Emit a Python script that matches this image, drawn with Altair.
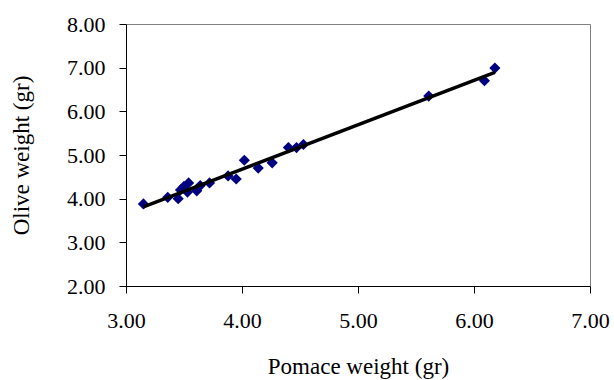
import altair as alt
import pandas as pd

# Pomace weight vs olive weight (grams)
pomace_weight = [3.15, 3.36, 3.45, 3.47, 3.50, 3.54, 3.53, 3.61, 3.64, 3.72,
                 3.88, 3.95, 4.02, 4.14, 4.26, 4.40, 4.47, 4.53, 5.61, 6.09, 6.18]
olive_weight = [3.88, 4.03, 4.00, 4.20, 4.28, 4.36, 4.15, 4.18, 4.30, 4.36,
                4.52, 4.45, 4.88, 4.70, 4.82, 5.17, 5.17, 5.24, 6.35, 6.70, 6.99]

x_ticks = [3, 4, 5, 6, 7]
y_ticks = [2, 3, 4, 5, 6, 7, 8]

df = pd.DataFrame({"pomace": pomace_weight, "olive": olive_weight})

FONT = "Liberation Serif"

x_enc = alt.X(
    "pomace:Q",
    scale=alt.Scale(domain=[3, 7], nice=False, zero=False),
    axis=alt.Axis(
        title="Pomace weight (gr)", values=x_ticks, format=".2f",
        grid=False, domainColor="black", tickColor="black",
        tickSize=7, labelPadding=17, titlePadding=24, labelFlush=False,
    ),
)
y_enc = alt.Y(
    "olive:Q",
    scale=alt.Scale(domain=[2, 8], nice=False, zero=False),
    axis=alt.Axis(
        title="Olive weight (gr)", values=y_ticks, format=".2f",
        grid=False, domainColor="black", tickColor="black",
        tickSize=7, labelPadding=14, titlePadding=33, labelFlush=False,
    ),
)

points = alt.Chart(df).mark_point(
    shape="diamond", filled=True, color="#000080", size=125, opacity=1
).encode(x=x_enc, y=y_enc)

trend = alt.Chart(df).transform_regression(
    "pomace", "olive"
).mark_line(color="black", strokeWidth=3.5).encode(x=x_enc, y=y_enc)

chart = (
    alt.layer(points, trend)
    .properties(
        width=464, height=262,
        autosize=alt.AutoSizeParams(type="none"),
        padding={"left": 126, "top": 24, "right": 24, "bottom": 94},
    )
    .configure_view(stroke="#808080", strokeWidth=1)
    .configure_axis(
        labelFont=FONT, titleFont=FONT, labelFontSize=22, titleFontSize=23,
        titleFontWeight="normal", labelColor="black", titleColor="black",
    )
)

chart.save("out.html", embed_options={"renderer": "svg", "actions": False})
